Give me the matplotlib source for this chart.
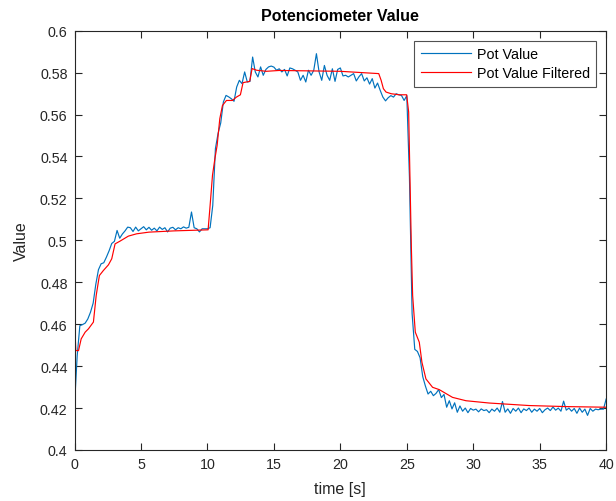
import numpy as np
import matplotlib
matplotlib.use("Agg")
import matplotlib.pyplot as plt

# ------------------------------------------------------------
# Data (raw samples every 0.2 s)
# ------------------------------------------------------------
time_raw = np.round(np.arange(0, 40.01, 0.2), 2)

pot_value = [
    # 0 - 5 s
    0.4215, 0.4450, 0.4593, 0.4598, 0.4605, 0.4625, 0.4657, 0.4700, 0.4790, 0.4860,
    0.4888, 0.4893, 0.4920, 0.4950, 0.4985, 0.4995, 0.5047, 0.5010, 0.5030, 0.5045,
    0.5063, 0.5060, 0.5042, 0.5063, 0.5045, 0.5055,
    # 5.2 - 10 s
    0.5065, 0.5050, 0.5062, 0.5048, 0.5058, 0.5045, 0.5063, 0.5052, 0.5060, 0.5040,
    0.5058, 0.5062, 0.5050, 0.5060, 0.5055, 0.5064, 0.5058, 0.5062, 0.5135, 0.5060,
    0.5055, 0.5040, 0.5055, 0.5055, 0.5055,
    # 10.2 - 15 s
    0.5060, 0.5166, 0.5437, 0.5510, 0.5560, 0.5660, 0.5691, 0.5684, 0.5675, 0.5663,
    0.5731, 0.5763, 0.5747, 0.5803, 0.5755, 0.5758, 0.5874, 0.5803, 0.5779, 0.5827,
    0.5787, 0.5815, 0.5827, 0.5831, 0.5826,
    # 15.2 - 20 s
    0.5811, 0.5818, 0.5803, 0.5815, 0.5784, 0.5822, 0.5818, 0.5811, 0.5803, 0.5763,
    0.5787, 0.5755, 0.5811, 0.5787, 0.5811, 0.5890, 0.5803, 0.5763, 0.5834, 0.5787,
    0.5763, 0.5818, 0.5758, 0.5815, 0.5822,
    # 20.2 - 25 s
    0.5784, 0.5787, 0.5779, 0.5787, 0.5795, 0.5760, 0.5780, 0.5795, 0.5760, 0.5775,
    0.5745, 0.5771, 0.5726, 0.5750, 0.5715, 0.5683, 0.5665, 0.5680, 0.5690, 0.5683,
    0.5699, 0.5694, 0.5691, 0.5667, 0.5690,
    # 25.2 - 30 s
    0.5300, 0.4650, 0.4480, 0.4470, 0.4440, 0.4350, 0.4305, 0.4267, 0.4280, 0.4259,
    0.4270, 0.4288, 0.4250, 0.4265, 0.4204, 0.4235, 0.4196, 0.4225, 0.4180, 0.4210,
    0.4185, 0.4200, 0.4178, 0.4198, 0.4190,
    # 30.2 - 35 s
    0.4195, 0.4182, 0.4196, 0.4188, 0.4192, 0.4178, 0.4195, 0.4185, 0.4200, 0.4180,
    0.4231, 0.4180, 0.4196, 0.4175, 0.4198, 0.4185, 0.4200, 0.4178, 0.4196, 0.4188,
    0.4200, 0.4180, 0.4195, 0.4185, 0.4198,
    # 35.2 - 40 s
    0.4178, 0.4192, 0.4200, 0.4188, 0.4205, 0.4190, 0.4200, 0.4185, 0.4233, 0.4190,
    0.4200, 0.4185, 0.4198, 0.4175, 0.4200, 0.4180, 0.4195, 0.4165, 0.4198, 0.4185,
    0.4195, 0.4192, 0.4195, 0.4195, 0.4243,
]

# filtered signal, traced at its break points
time_filt = [
    0.0, 0.1, 0.3, 0.5, 0.8, 1.05, 1.42, 1.63, 1.87, 2.17, 2.55, 2.8, 3.05, 3.42,
    4.05, 4.67, 5.6, 7.5, 10.05, 10.18, 10.38, 10.56, 10.73, 10.93, 11.13, 11.43,
    11.88, 12.18, 12.48, 12.68, 13.18, 13.36, 13.7, 14.43, 15.4, 20.0, 22.89, 23.07,
    23.24, 23.44, 23.83, 24.44, 24.99, 25.14, 25.24, 25.34, 25.44, 25.64, 25.94,
    26.14, 26.44, 26.94, 27.44, 28.44, 29.45, 31.2, 34.2, 37.0, 40.0,
]
pot_filtered = [
    0.4605, 0.4474, 0.4474, 0.4530, 0.4562, 0.4578, 0.4610, 0.4737, 0.4832, 0.4856,
    0.4883, 0.4912, 0.4983, 0.4996, 0.5020, 0.5031, 0.5039, 0.5045, 0.5050, 0.5150,
    0.5310, 0.5389, 0.5453, 0.5580, 0.5643, 0.5667, 0.5667, 0.5683, 0.5694, 0.5752,
    0.5758, 0.5819, 0.5811, 0.5806, 0.5810, 0.5806, 0.5795, 0.5763, 0.5723, 0.5707,
    0.5699, 0.5694, 0.5694, 0.5612, 0.5294, 0.4975, 0.4737, 0.4562, 0.4514, 0.4418,
    0.4339, 0.4299, 0.4288, 0.4251, 0.4235, 0.4224, 0.4212, 0.4207, 0.4204,
]

# ------------------------------------------------------------
# Figure (MATLAB-like look)
# ------------------------------------------------------------
plt.rcParams["font.family"] = ["Liberation Sans", "DejaVu Sans"]
axis_color = "#262626"

fig = plt.figure(figsize=(6.16, 5.02), dpi=100)
ax = fig.add_axes([0.121, 0.1016, 0.863, 0.8354])

ax.plot(time_raw, pot_value, color="#0072BD", lw=0.85, label="Pot Value")
ax.plot(time_filt, pot_filtered, color="#FF0000", lw=0.85, label="Pot Value Filtered")

ax.set_xlim(0, 40)
ax.set_ylim(0.4, 0.6)
ax.set_xticks(range(0, 41, 5))
ax.set_yticks(np.round(np.arange(0.4, 0.601, 0.02), 2))
ax.set_yticklabels(["0.4", "0.42", "0.44", "0.46", "0.48", "0.5",
                    "0.52", "0.54", "0.56", "0.58", "0.6"])

ax.tick_params(direction="in", top=True, right=True, length=5, width=0.8,
               labelsize=10.3, colors=axis_color, pad=5)
for spine in ax.spines.values():
    spine.set_color(axis_color)
    spine.set_linewidth(0.8)

ax.set_xlabel("time [s]", fontsize=11.5, color=axis_color, labelpad=7)
ax.set_ylabel("Value", fontsize=11.5, color=axis_color, labelpad=8)
ax.set_title("Potenciometer Value", fontsize=11.5, fontweight="bold",
             color="black", pad=8)

leg = ax.legend(loc="upper right", fontsize=10.3, frameon=True, fancybox=False,
                handlelength=3.5, handletextpad=0.4, labelspacing=0.35,
                borderpad=0.45, borderaxespad=0.7)
leg.get_frame().set_edgecolor(axis_color)
leg.get_frame().set_linewidth(0.8)

fig.savefig("out.png", dpi=100)
